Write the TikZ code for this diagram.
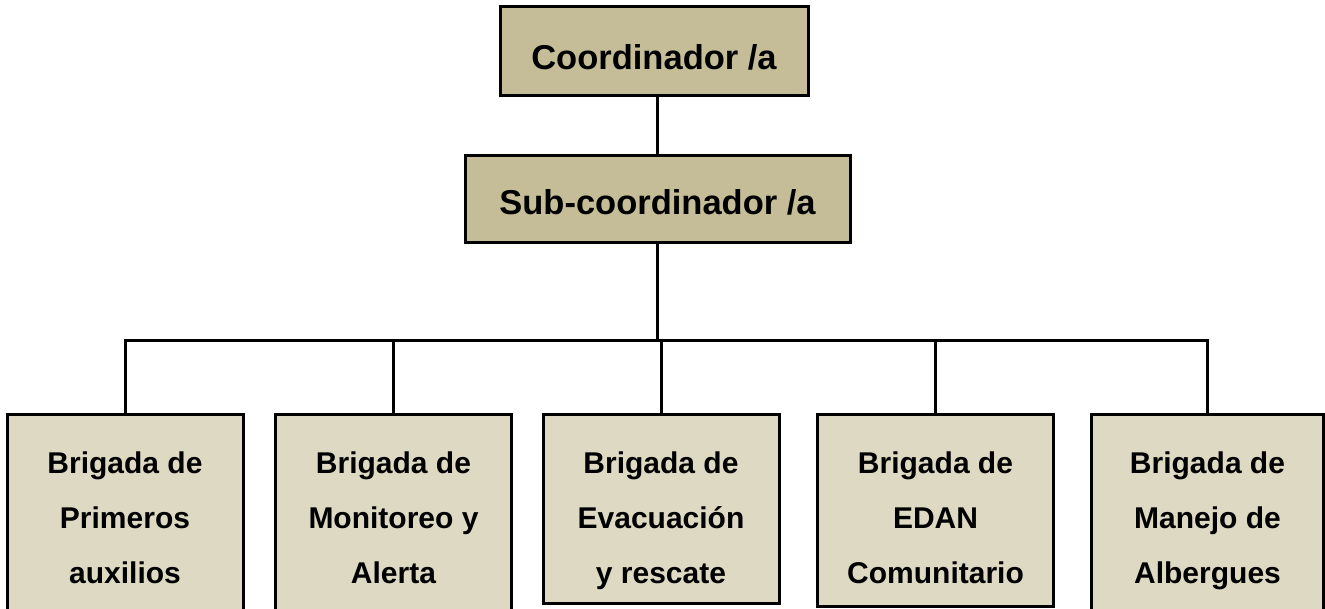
\documentclass[tikz,border=0pt]{standalone}
\usepackage{fontspec}
\setmainfont{Liberation Sans}
\definecolor{tanD}{HTML}{C4BD97}
\definecolor{tanL}{HTML}{DDD9C3}

\begin{document}
\begin{tikzpicture}[
  x=1pt, y=-1pt,
  line width=3pt,
  chief/.style={draw=black, fill=tanD, outer sep=0pt, text depth=0pt,
    font=\fontsize{34.5}{41}\selectfont\bfseries},
  brig/.style={draw=black, fill=tanL, outer sep=0pt, anchor=north, minimum width=236pt},
  brigtxt/.style={anchor=north, yshift=-36pt, inner sep=0pt, align=center,
    font=\fontsize{30}{55}\selectfont\bfseries},
]
\useasboundingbox (0,0) rectangle (1325,609);
\clip (0,0) rectangle (1325,609);

\node[name=coord, chief, minimum width=308pt, minimum height=89pt, text height=36.6pt]
  at (654,51.5) {Coordinador /a};
\node[name=subcoord, chief, minimum width=385pt, minimum height=87pt, text height=30.6pt]
  at (657.5,199) {Sub-coordinador /a};

\node[name=brig1, brig, minimum height=210pt,
  label={[brigtxt]north:{Brigada de\\Primeros\\auxilios}}] at (125,414) {};
\node[name=brig2, brig, minimum height=210pt,
  label={[brigtxt]north:{Brigada de\\Monitoreo y\\Alerta}}] at (393.5,414) {};
\node[name=brig3, brig, minimum height=189pt,
  label={[brigtxt]north:{Brigada de\\Evacuación\\y rescate}}] at (661,414) {};
\node[name=brig4, brig, minimum height=192pt,
  label={[brigtxt]north:{Brigada de\\EDAN\\Comunitario}}] at (935.5,414) {};
\node[name=brig5, brig, minimum height=210pt, minimum width=232pt,
  label={[brigtxt]north:{Brigada de\\Manejo de\\Albergues}}] at (1207.5,414) {};

\coordinate (bus) at (657.5,341);
\draw (subcoord.north |- coord.south) -- (subcoord.north);
\draw (subcoord.south) -- (bus);
\draw (brig1.north) -- (brig1.north |- bus) -- (brig5.north |- bus) -- (brig5.north);
\foreach \b in {brig2,brig3,brig4}
  \draw (\b.north) -- (\b.north |- bus);
\end{tikzpicture}
\end{document}
